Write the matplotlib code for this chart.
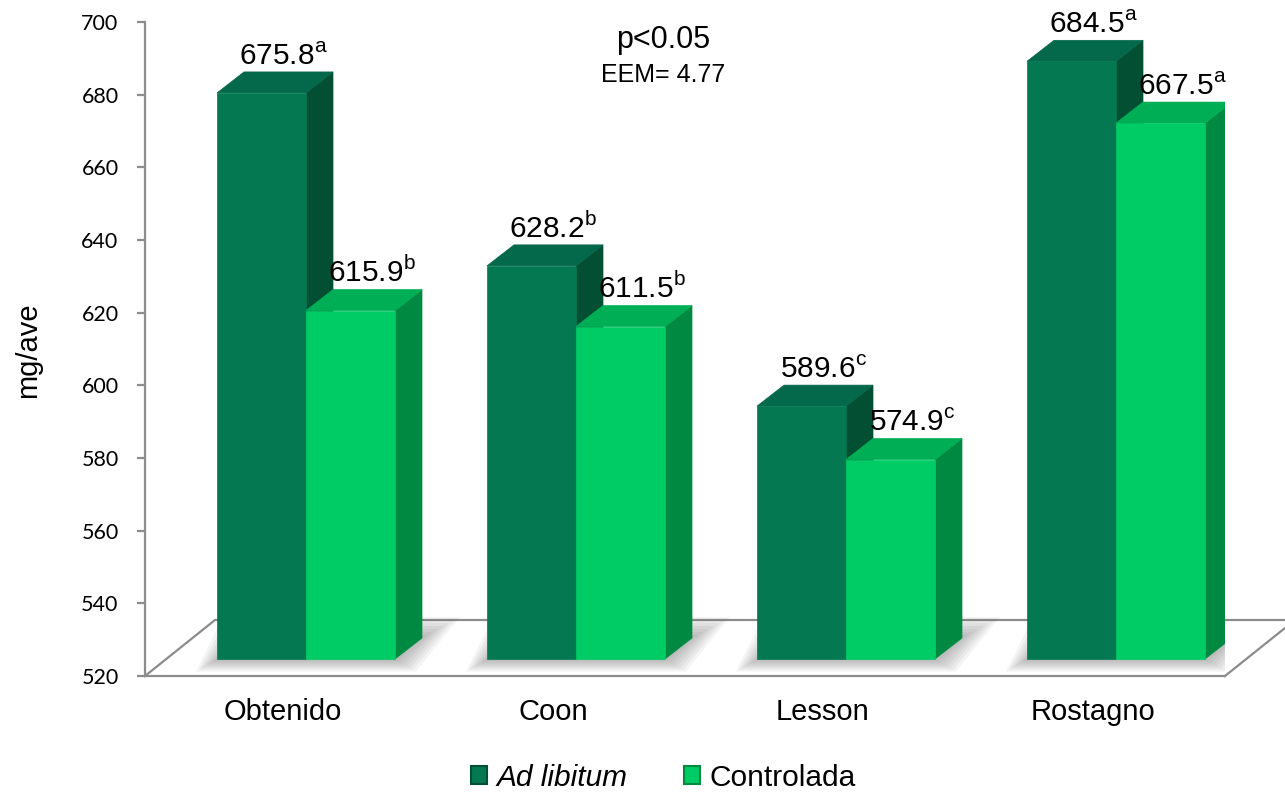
import matplotlib
matplotlib.use("Agg")
import matplotlib.pyplot as plt
from matplotlib.patches import Polygon, Patch

plt.rcParams['font.family'] = ['Liberation Sans', 'DejaVu Sans']
plt.rcParams['mathtext.fontset'] = 'custom'
plt.rcParams['mathtext.rm'] = 'Liberation Sans'

categories = ['Obtenido', 'Coon', 'Lesson', 'Rostagno']
ad_libitum = [675.8, 628.2, 589.6, 684.5]
controlada = [615.9, 611.5, 574.9, 667.5]
letters_ad = ['a', 'b', 'c', 'a']
letters_ctrl = ['b', 'b', 'c', 'a']
series_names = ['Ad libitum', 'Controlada']

# colours: front, top, side
dark = ('#047850', '#04684A', '#034F33')
light = ('#00CC66', '#00AF55', '#008A41')

YMIN, YMAX = 520, 700
PX_X = 270.0            # pixels per category unit
PX_Y = 654.0 / 180      # pixels per mg unit

# 3d-ish offsets (data units)
floor_dx, floor_dy = 70 / PX_X, 56 / PX_Y
front_dy = 17 / PX_Y
bar_dx, bar_dy = 27 / PX_X, 21 / PX_Y
bar_w = 89 / PX_X
grp_off = -66 / PX_X

fig = plt.figure(figsize=(12.85, 7.95), dpi=100)
ax = fig.add_axes([145 / 1285, 119 / 795, 1080 / 1285, 654 / 795])
ax.set_xlim(-138 / PX_X, 4 - 138 / PX_X)
ax.set_ylim(YMIN, YMAX)


def draw_bar(x0, value, cols):
    b = YMIN + front_dy
    t = value + front_dy
    front = [(x0, b), (x0 + bar_w, b), (x0 + bar_w, t), (x0, t)]
    top = [(x0, t), (x0 + bar_w, t), (x0 + bar_w + bar_dx, t + bar_dy), (x0 + bar_dx, t + bar_dy)]
    side = [(x0 + bar_w, b), (x0 + bar_w + bar_dx, b + bar_dy),
            (x0 + bar_w + bar_dx, t + bar_dy), (x0 + bar_w, t)]
    for pts, c in [(side, cols[2]), (top, cols[1]), (front, cols[0])]:
        ax.add_patch(Polygon(pts, closed=True, facecolor=c, edgecolor=c, lw=0.5, zorder=3))


def draw_shadow(x0, width):
    b = YMIN + front_dy
    for k in range(7):
        ex, ey = (3 + k * 3) / PX_X, (3 + k * 3) / PX_Y
        pts = [(x0 - ex, b - ey * 0.6), (x0 + width + ex, b - ey * 0.6),
               (x0 + width + bar_dx + ex * 1.8, b + bar_dy + ey),
               (x0 + bar_dx - ex, b + bar_dy + ey)]
        ax.add_patch(Polygon(pts, closed=True, facecolor='#444444', edgecolor='none',
                             alpha=0.06, zorder=2))


# floor
gray = '#8C8C8C'
xl, xr = ax.get_xlim()
ax.plot([xl, xl + floor_dx, xr + floor_dx, xr], [YMIN, YMIN + floor_dy, YMIN + floor_dy, YMIN],
        color=gray, lw=1.6, clip_on=False, zorder=1)

for i in range(len(categories)):
    x0 = i + grp_off
    draw_shadow(x0, 2 * bar_w)
    draw_bar(x0, ad_libitum[i], dark)
    draw_bar(x0 + bar_w, controlada[i], light)
    for xs, v, let in [(x0, ad_libitum[i], letters_ad[i]), (x0 + bar_w, controlada[i], letters_ctrl[i])]:
        ax.text(xs + (bar_w + bar_dx) / 2 + 0.03, v + front_dy + bar_dy + 2.0,
                '{:.1f}'.format(v) + r'$^{\mathrm{' + let + '}}$',
                ha='center', va='baseline', fontsize=21.5, zorder=5)

ax.spines['top'].set_visible(False)
ax.spines['right'].set_visible(False)
ax.spines['left'].set_color(gray)
ax.spines['bottom'].set_color(gray)
ax.spines['left'].set_linewidth(1.6)
ax.spines['bottom'].set_linewidth(1.6)
ax.set_yticks(range(YMIN, YMAX + 1, 20))
ax.tick_params(axis='y', colors=gray, length=6, width=1.6, pad=13, labelcolor='black')
for lab in ax.get_yticklabels():
    lab.set_fontfamily('Lato')
    lab.set_fontsize(15.5)
ax.set_xticks(range(len(categories)))
ax.set_xticklabels(categories, fontsize=21)
ax.tick_params(axis='x', length=0, pad=16)

fig.text(28 / 1285, 1 - 350 / 795, 'mg/ave', rotation=90, ha='center', va='center', fontsize=21)
fig.text(663 / 1285, 1 - 40 / 795, 'p<0.05', ha='center', va='center', fontsize=22)
fig.text(663 / 1285, 1 - 75 / 795, 'EEM= 4.77', ha='center', va='center', fontsize=18)

handles = [Patch(facecolor=dark[0], edgecolor=dark[2], lw=1.5),
           Patch(facecolor=light[0], edgecolor=light[2], lw=1.5)]
leg = fig.legend(handles, series_names, loc='center', bbox_to_anchor=(663 / 1285, 1 - 778 / 795),
                 ncol=2, frameon=False, fontsize=21.5, handlelength=0.55, handleheight=0.55,
                 handletextpad=0.3, columnspacing=1.9)
leg.get_texts()[0].set_fontstyle('italic')

fig.savefig('out.png', dpi=100)
